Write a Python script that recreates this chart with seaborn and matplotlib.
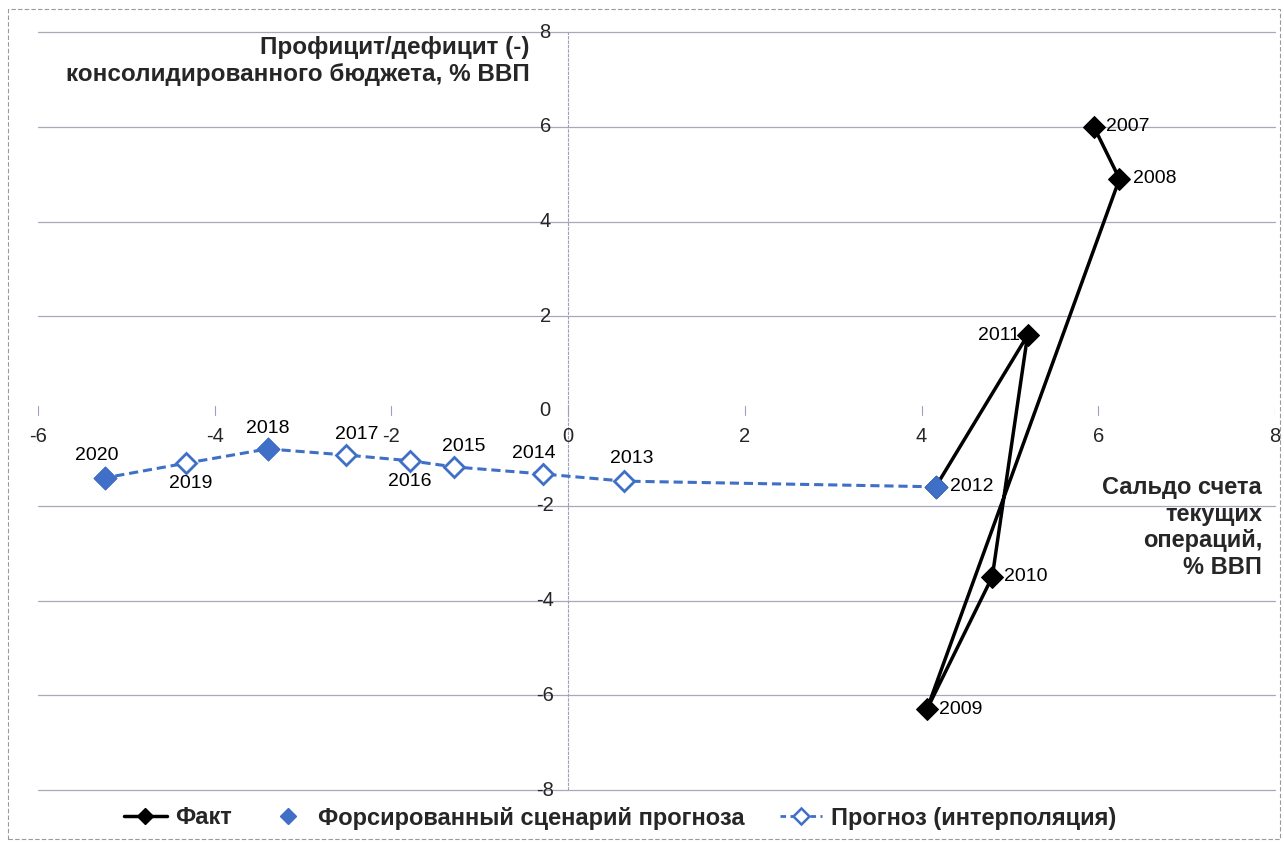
"""
Сальдо счета текущих операций и профицит/дефицит бюджета, % ВВП
"""

import pandas as pd
import numpy as np
import matplotlib.pyplot as plt
import seaborn as sns
from matplotlib.lines import Line2D
from matplotlib.patches import Rectangle

# данные
years = [2007, 2008, 2009, 2010, 2011, 2012, 2013, 2014, 2015, 2016, 2017, 2018, 2019, 2020]
current_account = [5.95, 6.24, 4.06, 4.80, 5.20, 4.16, 0.63, -0.28, -1.29, -1.79, -2.51, -3.40, -4.32, -5.24]
budget = [6.0, 4.9, -6.3, -3.5, 1.6, -1.6, -1.48, -1.33, -1.18, -1.05, -0.93, -0.80, -1.10, -1.41]

fact_years = [2007, 2008, 2009, 2010, 2011, 2012]
forced_years = [2012, 2018, 2020]
interp_years = [2012, 2013, 2014, 2015, 2016, 2017, 2018, 2019, 2020]

x_ticks = [-6, -4, -2, 0, 2, 4, 6, 8]
y_ticks = [-8, -6, -4, -2, 0, 2, 4, 6, 8]

# подписи годов: (dx, dy) в пикселях и выравнивание
label_pos = {
    2007: (12, 0, 'left', 'center'),
    2008: (14, 0, 'left', 'center'),
    2009: (12, 0, 'left', 'center'),
    2010: (12, 0, 'left', 'center'),
    2011: (-8, 0, 'right', 'center'),
    2012: (14, 0, 'left', 'center'),
    2013: (8, 14, 'center', 'bottom'),
    2014: (-10, 12, 'center', 'bottom'),
    2015: (10, 12, 'center', 'bottom'),
    2016: (0, -12, 'center', 'top'),
    2017: (10, 12, 'center', 'bottom'),
    2018: (0, 12, 'center', 'bottom'),
    2019: (4, -12, 'center', 'top'),
    2020: (-8, 14, 'center', 'bottom'),
}

sns.set_style('white')
plt.rcParams['font.family'] = ['Liberation Sans', 'DejaVu Sans']

df = pd.DataFrame({'year': years, 'ca': current_account, 'budget': budget})
fact = df[df['year'].isin(fact_years)]
forced = df[df['year'].isin(forced_years)]
interp = df[df['year'].isin(interp_years)]

blue = '#3F6FC6'

fig = plt.figure(figsize=(12.84, 8.43), dpi=100)
ax = fig.add_axes([38 / 1284, 1 - 790 / 843, (1275 - 38) / 1284, (790 - 32) / 843])

# рамка вокруг всей диаграммы
fig.patches.append(Rectangle((8 / 1284, 4 / 843), 1272 / 1284, 830 / 843,
                             transform=fig.transFigure, fill=False,
                             edgecolor='#9a9a9a', linewidth=0.8, linestyle=(0, (4, 2))))

# горизонтальная сетка
for yv in y_ticks:
    if yv != 0:
        ax.axhline(yv, color='#a8a8b8', linewidth=0.9, zorder=0, clip_on=False)
ax.axvline(0, color='#9aa0c0', linewidth=0.8, linestyle=(0, (3, 1)), zorder=0)

sns.lineplot(data=interp, x='ca', y='budget', sort=False, ax=ax, color=blue,
             linestyle=(0, (3, 1.6)), linewidth=2.2, marker='D', markersize=10,
             markerfacecolor='white', markeredgecolor=blue, markeredgewidth=2, zorder=2)
sns.lineplot(data=fact, x='ca', y='budget', sort=False, ax=ax, color='black',
             linewidth=2.5, marker='D', markersize=11, markeredgecolor='black', zorder=3)
sns.scatterplot(data=forced, x='ca', y='budget', ax=ax, color=blue, marker='D',
                s=140, edgecolor=blue, linewidth=0.5, zorder=4)

for yr, xv, yv in zip(years, current_account, budget):
    dx, dy, ha, va = label_pos[yr]
    ax.annotate(str(yr), (xv, yv), xytext=(dx, dy), textcoords='offset pixels',
                ha=ha, va=va, fontsize=14, color='black', zorder=5)

ax.set_xlim(-6, 8)
ax.set_ylim(-8, 8)
ax.set_xticks([])
ax.set_yticks([])
ax.set_xlabel('')
ax.set_ylabel('')
for s in ax.spines.values():
    s.set_visible(False)

# подписи осей, как у пересекающихся осей Excel
for xv in x_ticks:
    ax.plot([xv, xv], [0.1, -0.08], color='#9aa0c0', linewidth=0.8, zorder=1)
    ax.annotate(str(xv), (xv, 0), xytext=(0, -26),
                textcoords='offset pixels', ha='center', va='center', fontsize=14.5)
for yv in y_ticks:
    ax.annotate(str(yv), (0, yv), xytext=(-23, 0), textcoords='offset pixels',
                ha='center', va='center', fontsize=14.5)

ax.text(530 / 1284, 1 - 36 / 843, 'Профицит/дефицит (-)\nконсолидированного бюджета, % ВВП',
        transform=fig.transFigure, ha='right', va='top', fontsize=17.5,
        fontweight='bold', linespacing=1.25)
ax.text(1262 / 1284, 1 - 476 / 843, 'Сальдо счета\nтекущих\nопераций,\n% ВВП',
        transform=fig.transFigure, ha='right', va='top', fontsize=17,
        fontweight='bold', linespacing=1.2)

handles = [
    Line2D([], [], color='black', linewidth=2.5, marker='D', markersize=8),
    Line2D([], [], color=blue, linestyle='none', marker='D', markersize=8),
    Line2D([], [], color=blue, linestyle=(0, (2, 1.6)), linewidth=2,
           marker='D', markersize=8, markerfacecolor='white', markeredgewidth=1.8),
]
labels = ['Факт', 'Форсированный сценарий прогноза', 'Прогноз (интерполяция)']
fig.legend(handles, labels, loc='center', bbox_to_anchor=(620 / 1284, 1 - 818 / 843),
           ncol=3, frameon=False, columnspacing=1.5, handlelength=1.8,
           handletextpad=0.35, prop={'size': 17, 'weight': 'bold'})

fig.savefig('out.png', dpi=100)
